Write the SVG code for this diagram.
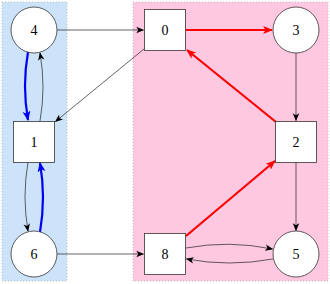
<svg xmlns="http://www.w3.org/2000/svg" width="330" height="284" viewBox="0 0 330 284">
<style>
.bg{stroke:#b0b0b0;stroke-width:0.8;stroke-dasharray:1 2}
.nd{fill:#fff;stroke:#333;stroke-width:0.8}
.lb{font-family:"Liberation Serif","DejaVu Serif",serif;font-size:14px;text-anchor:middle;dominant-baseline:central;fill:#000}
.e{fill:none;stroke:#222;stroke-width:0.7}
.eb{fill:none;stroke:#0000f0;stroke-width:2.2}
.er{fill:none;stroke:#f00;stroke-width:2.2}
</style>
<defs>
<marker id="a" viewBox="0 0 10 10" refX="9" refY="5" markerWidth="8" markerHeight="8" markerUnits="userSpaceOnUse" orient="auto"><path d="M0,1 L10,5 L0,9 L2.5,5 Z" fill="#000"/></marker>
<marker id="ab" viewBox="0 0 10 10" refX="9" refY="5" markerWidth="4.5" markerHeight="4.5" orient="auto"><path d="M0,1 L10,5 L0,9 L2.5,5 Z" fill="#0000f0"/></marker>
<marker id="ar" viewBox="0 0 10 10" refX="9" refY="5" markerWidth="4.5" markerHeight="4.5" orient="auto"><path d="M0,1 L10,5 L0,9 L2.5,5 Z" fill="#f00"/></marker>
</defs>
<rect width="330" height="284" fill="#fff"/>
<g id="regions">
<rect class="bg" x="2" y="2" width="65" height="279" fill="#cde3fa"/>
<rect class="bg" x="133" y="2" width="195" height="279" fill="#fdc8e0"/>
</g>
<g id="connectors">
<path class="e" d="M57,30 H143.5" marker-end="url(#a)"/>
<path class="e" d="M144,49 L55.5,121.5" marker-end="url(#a)"/>
<path class="eb" d="M28,52 Q22,86 28,120" marker-end="url(#ab)"/>
<path class="e" d="M40,121 Q46,87 40,53" marker-end="url(#a)"/>
<path class="e" d="M28,162 Q22,197 28,231" marker-end="url(#a)"/>
<path class="eb" d="M40,232 Q46,197 40,163" marker-end="url(#ab)"/>
<path class="e" d="M57,254 H143.5" marker-end="url(#a)"/>
<path class="er" d="M186,30 H272" marker-end="url(#ar)"/>
<path class="er" d="M276,122 L187,50" marker-end="url(#ar)"/>
<path class="e" d="M296,53 V120.5" marker-end="url(#a)"/>
<path class="e" d="M296,162 V230.5" marker-end="url(#a)"/>
<path class="er" d="M186,236 L275,161" marker-end="url(#ar)"/>
<path class="e" d="M186,248 Q229,240 272.5,249" marker-end="url(#a)"/>
<path class="e" d="M273,259 Q229,267 186.5,259" marker-end="url(#a)"/>
</g>
<g id="n4"><circle class="nd" cx="34" cy="30" r="23"/><text class="lb" x="34" y="30">4</text></g>
<g id="n0"><rect class="nd" x="144.5" y="9.5" width="41" height="41"/><text class="lb" x="165" y="30">0</text></g>
<g id="n3"><circle class="nd" cx="296" cy="30" r="23"/><text class="lb" x="296" y="30">3</text></g>
<g id="n1"><rect class="nd" x="13.5" y="121.5" width="41" height="41"/><text class="lb" x="34" y="142">1</text></g>
<g id="n2"><rect class="nd" x="275.5" y="121.5" width="41" height="41"/><text class="lb" x="296" y="142">2</text></g>
<g id="n6"><circle class="nd" cx="34" cy="254" r="23"/><text class="lb" x="34" y="254">6</text></g>
<g id="n8"><rect class="nd" x="144.5" y="233.5" width="41" height="41"/><text class="lb" x="165" y="254">8</text></g>
<g id="n5"><circle class="nd" cx="296" cy="254" r="23"/><text class="lb" x="296" y="254">5</text></g>
</svg>
